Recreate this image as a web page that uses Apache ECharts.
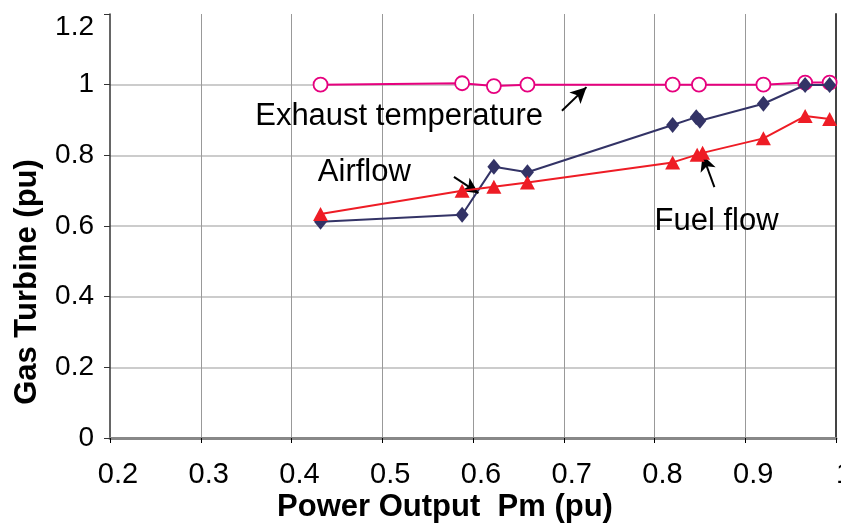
<!DOCTYPE html>
<html>
<head>
<meta charset="utf-8">
<script src="https://cdn.jsdelivr.net/npm/echarts@6/dist/echarts.min.js"></script>
<style>
html,body{margin:0;padding:0;background:#fff;}
#chart{width:841px;height:527px;}
</style>
</head>
<body>
<div id="chart"></div>
<script>
// Gas turbine operating points versus mechanical power output (per unit)
const exhaustX = [0.432, 0.588, 0.623, 0.660, 0.820, 0.849, 0.920, 0.966, 0.993];
const exhaustY = [1.0, 1.004, 0.996, 1.0, 1.0, 1.0, 1.0, 1.006, 1.006];

const airflowX = [0.432, 0.588, 0.623, 0.660, 0.820, 0.846, 0.850, 0.920, 0.966, 0.993];
const airflowY = [0.612, 0.632, 0.768, 0.752, 0.886, 0.908, 0.898, 0.946, 0.999, 0.999];

const fuelX = [0.432, 0.588, 0.623, 0.660, 0.820, 0.847, 0.853, 0.920, 0.966, 0.993];
const fuelY = [0.634, 0.700, 0.711, 0.723, 0.780, 0.802, 0.807, 0.848, 0.911, 0.903];

const xTicks = [0.2, 0.3, 0.4, 0.5, 0.6, 0.7, 0.8, 0.9, 1];
const yTicks = [0, 0.2, 0.4, 0.6, 0.8, 1, 1.2];

const xTitle = 'Power Output  Pm (pu)';
const yTitle = 'Gas Turbine (pu)';

// callout text anchors (left edge, vertical middle) and arrows [from, to]
const noteNames = ['Exhaust temperature', 'Airflow', 'Fuel flow'];
const noteAt = [[0.360, 0.910], [0.429, 0.752], [0.800, 0.614]];
const arrows = [
  [[0.698, 0.926], [0.725, 0.993]],
  [[0.579, 0.739], [0.606, 0.693]],
  [[0.866, 0.710], [0.853, 0.801]]
];

const pair = (xs, ys) => xs.map((x, i) => [x, ys[i]]);
const FONT = '"Liberation Sans", Arial, sans-serif';
const fmt = v => String(Math.round(v * 10) / 10);

const chart = echarts.init(document.getElementById('chart'));
chart.setOption({
  animation: false,
  backgroundColor: '#fff',
  grid: { left: 110, right: 5, top: 14, bottom: 89, containLabel: false, outerBoundsMode: 'none' },
  xAxis: {
    type: 'value', min: xTicks[0], max: xTicks[xTicks.length - 1], interval: 0.1,
    axisLine: { show: true, lineStyle: { color: '#888', width: 3 } },
    axisTick: { show: true, inside: false, length: 5, lineStyle: { color: '#000', width: 1 } },
    axisLabel: {
      fontFamily: FONT, fontSize: 29, color: '#000', margin: 22,
      padding: [0, 0, 0, 16], hideOverlap: false,
      formatter: fmt
    },
    splitLine: { show: true, showMinLine: false, lineStyle: { color: '#999', width: 1 } }
  },
  yAxis: [
    {
      type: 'value', min: yTicks[0], max: yTicks[yTicks.length - 1], interval: 0.2,
      axisLine: { show: true, lineStyle: { color: '#333', width: 1.5 } },
      axisTick: { show: true, inside: false, length: 6, lineStyle: { color: '#333', width: 1 } },
      axisLabel: {
        fontFamily: FONT, fontSize: 28, color: '#000', margin: 16,
        formatter: v => (Math.abs(v - 1.2) < 1e-6 ? '{top|' + fmt(v) + '}' : fmt(v)),
        rich: { top: { fontFamily: FONT, fontSize: 28, color: '#000', padding: [26, 0, 0, 0] } }
      },
      splitLine: { show: true, showMinLine: false, showMaxLine: false, lineStyle: { color: '#ccc', width: 2 } }
    },
    {
      // right-hand frame edge
      type: 'value', min: yTicks[0], max: yTicks[yTicks.length - 1], interval: 0.2, position: 'right',
      axisLine: { show: true, lineStyle: { color: '#444', width: 2 } },
      axisTick: { show: false }, axisLabel: { show: false }, splitLine: { show: false }
    }
  ],
  series: [
    {
      name: 'Exhaust temperature', type: 'line', data: pair(exhaustX, exhaustY),
      symbol: 'circle', symbolSize: 14, z: 3,
      lineStyle: { color: '#e6007e', width: 2 },
      itemStyle: { color: '#fff', borderColor: '#e6007e', borderWidth: 1.8 }
    },
    {
      name: 'Airflow', type: 'line', data: pair(airflowX, airflowY),
      symbol: 'diamond', symbolSize: [13, 16], z: 4,
      lineStyle: { color: '#333366', width: 2 },
      itemStyle: { color: '#333366' }
    },
    {
      name: 'Fuel flow', type: 'line', data: pair(fuelX, fuelY),
      symbol: 'triangle', symbolSize: [15, 14], z: 5,
      lineStyle: { color: '#ee1c25', width: 2 },
      itemStyle: { color: '#ee1c25' }
    },
    {
      // callout arrows
      name: 'arrows', type: 'line', data: [], silent: true,
      markLine: {
        symbol: ['none', 'arrow'], symbolSize: [12, 16], silent: true,
        label: { show: false },
        lineStyle: { color: '#000', width: 2, type: 'solid' },
        data: arrows.map(a => [{ coord: a[0] }, { coord: a[1] }])
      }
    }
  ]
});

// axis titles and callout texts
const notes = noteNames.map((t, i) => {
  const p = chart.convertToPixel({ gridIndex: 0 }, noteAt[i]);
  return {
    type: 'text', x: p[0], y: p[1], z: 10,
    style: { text: t, fontFamily: FONT, fontSize: 31, fill: '#000', align: 'left', verticalAlign: 'middle' }
  };
});
chart.setOption({
  graphic: [
    {
      type: 'text', x: 445, y: 507,
      style: { text: xTitle, fontFamily: FONT, fontSize: 31, fontWeight: 'bold', fill: '#000', align: 'center', verticalAlign: 'middle' }
    },
    {
      type: 'text', x: 27, y: 282, rotation: Math.PI / 2,
      style: { text: yTitle, fontFamily: FONT, fontSize: 31, fontWeight: 'bold', fill: '#000', align: 'center', verticalAlign: 'middle' }
    }
  ].concat(notes)
});
</script>
</body>
</html>
